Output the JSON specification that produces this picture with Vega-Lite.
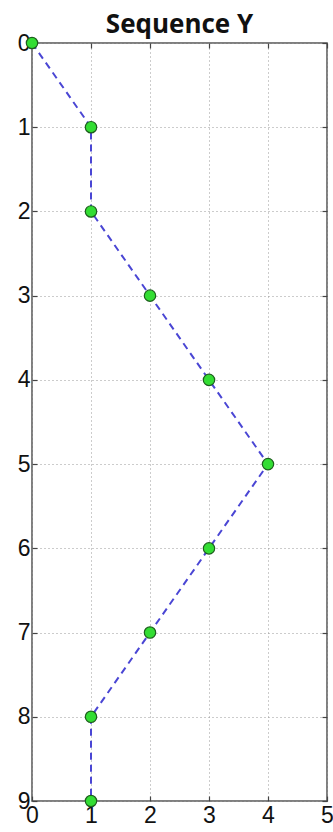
{
  "$schema": "https://vega.github.io/schema/vega-lite/v6.json",
  "width": 295,
  "height": 758,
  "autosize": {"type": "none"},
  "padding": {"left": 32, "top": 43, "right": 6, "bottom": 31},
  "background": "white",
  "title": {"text": "Sequence Y", "font": "Open Sans", "fontWeight": "bold", "fontSize": 26, "color": "#111111", "offset": 0, "anchor": "middle", "baseline": "bottom", "dy": 32},
  "data": {"values": [
    {"x": 0, "y": 0}, {"x": 1, "y": 1}, {"x": 1, "y": 2}, {"x": 2, "y": 3}, {"x": 3, "y": 4},
    {"x": 4, "y": 5}, {"x": 3, "y": 6}, {"x": 2, "y": 7}, {"x": 1, "y": 8}, {"x": 1, "y": 9}
  ]},
  "config": {
    "view": {"stroke": "#555555", "strokeWidth": 1.5},
    "axis": {"labelFont": "Liberation Sans", "labelFontSize": 23, "labelColor": "#111111", "labelOverlap": false, "domain": false, "tickColor": "#444444", "tickSize": -5, "tickWidth": 1.2, "gridColor": "#999999", "gridDash": [1, 3], "gridWidth": 1, "title": null}
  },
  "resolve": {"axis": {"x": "independent", "y": "independent"}},
  "layer": [
    {
      "mark": {"type": "line", "color": "#4a46d4", "strokeWidth": 2, "strokeDash": [7, 5]},
      "encoding": {
        "x": {"field": "x", "type": "quantitative", "scale": {"domain": [0, 5], "nice": false, "zero": false}, "axis": {"orient": "bottom", "values": [0, 1, 2, 3, 4, 5], "labelPadding": 8, "labelFlush": false, "grid": true}},
        "y": {"field": "y", "type": "quantitative", "scale": {"domain": [0, 9], "reverse": true, "nice": false, "zero": false}, "axis": {"orient": "left", "values": [0, 1, 2, 3, 4, 5, 6, 7, 8, 9], "labelPadding": 7, "labelFlush": false, "grid": true}},
        "order": {"field": "y"}
      }
    },
    {
      "mark": {"type": "point", "filled": true, "fill": "#33dd33", "stroke": "#1d5e1d", "strokeWidth": 1.2, "size": 130, "opacity": 1},
      "encoding": {
        "x": {"field": "x", "type": "quantitative", "scale": {"domain": [0, 5], "nice": false, "zero": false}, "axis": {"orient": "top", "values": [0, 1, 2, 3, 4, 5], "labels": false, "grid": false}},
        "y": {"field": "y", "type": "quantitative", "scale": {"domain": [0, 9], "reverse": true, "nice": false, "zero": false}, "axis": {"orient": "right", "values": [0, 1, 2, 3, 4, 5, 6, 7, 8, 9], "labels": false, "grid": false}}
      }
    }
  ]
}
